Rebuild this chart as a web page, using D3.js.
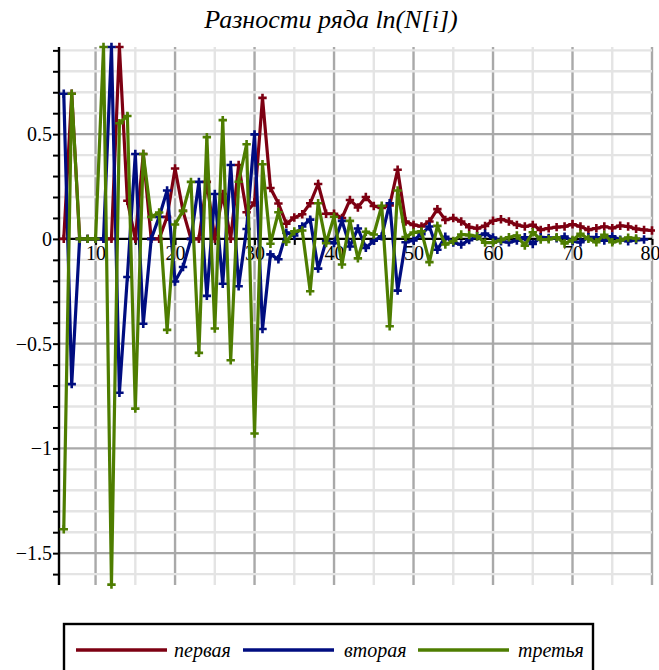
<!DOCTYPE html>
<html>
<head>
<meta charset="utf-8">
<script src="https://cdn.jsdelivr.net/npm/d3@7"></script>
<style>
  html, body { margin: 0; padding: 0; background: #fff; }
  svg { display: block; }
</style>
</head>
<body>
<svg id="chart" width="659" height="670"></svg>
<script>
// Differences of ln(N[i]): first, second and third, indexed from i = 6
const startIndex = 6;

const first = [
  0, 0.693, 0, 0, 0, 0, 0, 0.916, 0.182, 0,
  0.405, 0, 0, 0.105, 0.336, 0.134, 0, 0, 0.272, 0,
  0.214, 0, 0.353, 0.127, 0.174, 0.673, 0.243, 0.169, 0.072, 0.102,
  0.118, 0.17, 0.262, 0.12, 0.12, 0.1, 0.186, 0.15, 0.2, 0.157,
  0.148, 0.16, 0.33, 0.083, 0.067, 0.06, 0.083, 0.142, 0.09, 0.1,
  0.083, 0.056, 0.05, 0.062, 0.087, 0.094, 0.083, 0.067, 0.059, 0.067,
  0.043, 0.051, 0.056, 0.059, 0.07, 0.059, 0.043, 0.051, 0.059, 0.051,
  0.063, 0.059, 0.048, 0.043, 0.04
];

const second = [
  0.693, -0.693, 0, 0, 0, 0, 0.916, -0.734, -0.182, 0.405,
  -0.405, 0, 0.105, 0.231, -0.203, -0.134, 0, 0.272, -0.272, 0.214,
  -0.214, 0.353, -0.226, 0.047, 0.499, -0.43, -0.074, -0.097, 0.03, 0.016,
  0.06, 0.092, -0.142, -0.01, -0.02, 0.086, -0.036, 0.05, -0.043, -0.009,
  0.012, 0.17, -0.247, -0.016, -0.007, 0.023, 0.059, -0.052, 0.01, -0.017,
  -0.027, -0.006, 0.012, 0.025, 0.007, -0.011, -0.016, -0.008, 0.008, -0.024,
  0.008, 0.005, 0.003, 0.011, -0.011, -0.016, 0.008, 0.008, -0.008, 0.012,
  -0.004, -0.011, -0.005, -0.003
];

const third = [
  -1.386, 0.693, 0, 0, 0, 0.916, -1.65, 0.552, 0.587, -0.81,
  0.405, 0.105, 0.126, -0.434, 0.069, 0.134, 0.272, -0.544, 0.486, -0.428,
  0.567, -0.579, 0.273, 0.452, -0.929, 0.356, -0.023, 0.127, -0.014, 0.036,
  0.04, -0.25, 0.17, -0.02, 0.106, -0.122, 0.086, -0.093, 0.034, 0.021,
  0.158, -0.417, 0.231, 0.009, 0.03, 0.036, -0.111, 0.062, -0.027, -0.01,
  0.021, 0.018, 0.013, -0.018, -0.018, -0.005, 0.008, 0.016, -0.032, 0.032,
  -0.003, -0.002, 0.008, -0.022, -0.005, 0.024, 0, -0.016, 0.02, -0.016,
  -0.007, 0.006, 0.002
];

const seriesNames = ["первая", "вторая", "третья"];
const seriesColors = ["#7d0012", "#000d80", "#4e7d00"];
const xTickValues = [10, 20, 30, 40, 50, 60, 70, 80];
const yTickValues = [0.5, 0, -0.5, -1, -1.5];
const yTickLabels = ["0.5", "0", "\u22120.5", "\u22121", "\u22121.5"];
const title = "Разности ряда ln(N[i])";

const svg = d3.select("#chart");
const serif = "'Liberation Serif', 'Times New Roman', serif";

const x = d3.scaleLinear().domain([5.4, 80]).range([59, 652]);
const y = d3.scaleLinear().domain([-1.652, 0.916]).range([585, 47]);

// grid: minor lines every 5 (x) and 0.1 (y), major every 10 and 0.5
const gx = svg.append("g");
d3.range(10, 81, 5).forEach(v => {
  gx.append("line")
    .attr("x1", x(v)).attr("x2", x(v))
    .attr("y1", 47).attr("y2", 585)
    .attr("stroke", v % 10 === 0 ? "#a9a9a9" : "#e4e4e4")
    .attr("stroke-width", 2.4);
});
d3.range(-16, 10).forEach(k => {
  const v = k / 10;
  if (k === 0) return;
  gx.append("line")
    .attr("x1", 59).attr("x2", 652)
    .attr("y1", y(v)).attr("y2", y(v))
    .attr("stroke", k % 5 === 0 ? "#a9a9a9" : "#e4e4e4")
    .attr("stroke-width", 2.4);
});

// axes
const xAxis = d3.axisBottom(x)
  .tickValues(d3.range(10, 81, 5))
  .tickFormat(d => xTickValues.includes(d) ? String(d) : "")
  .tickSize(6).tickSizeOuter(0);
const xg = svg.append("g").attr("transform", `translate(0,${y(0)})`).call(xAxis)
  .attr("font-family", serif).attr("font-size", 20);
xg.select(".domain").attr("stroke", "#000").attr("stroke-width", 2.4)
  .attr("d", `M${x(5.4)},0H${x(80)}`);
xg.selectAll(".tick line").attr("stroke", "#000").attr("stroke-width", 2);
xg.selectAll(".tick text")
  .style("font-family", serif).style("font-size", "20px").attr("fill", "#000").attr("dy", "0.6em")
  .attr("dx", d => d === 80 ? -2 : 0);

const yAxis = d3.axisLeft(y)
  .tickValues(d3.range(-16, 10).map(k => k / 10))
  .tickFormat(d => {
    const i = yTickValues.findIndex(t => Math.abs(t - d) < 1e-9);
    return i >= 0 ? yTickLabels[i] : "";
  })
  .tickSize(6).tickSizeOuter(0);
const yg = svg.append("g").attr("transform", `translate(${x(5.4)},0)`).call(yAxis)
  .attr("font-family", serif).attr("font-size", 20);
yg.select(".domain").attr("stroke", "#000").attr("stroke-width", 2.4)
  .attr("d", `M0,47V585`);
yg.selectAll(".tick line").attr("stroke", "#000").attr("stroke-width", 2);
yg.selectAll(".tick text")
  .style("font-family", serif).style("font-size", "20px").attr("fill", "#000").attr("x", -7);

// series
svg.append("clipPath").attr("id", "plotclip")
  .append("rect").attr("x", 55).attr("y", 40).attr("width", 600).attr("height", 550);

const line = d3.line().x(d => x(d.i)).y(d => y(d.v));
const plot = svg.append("g").attr("clip-path", "url(#plotclip)");
[first, second, third].forEach((arr, s) => {
  const pts = arr.map((v, k) => ({ i: startIndex + k, v }));
  plot.append("path").datum(pts)
    .attr("d", line)
    .attr("fill", "none")
    .attr("stroke", seriesColors[s])
    .attr("stroke-width", 3.2)
    .attr("stroke-linejoin", "miter");
  const m = 4.2;
  plot.append("g").selectAll("path").data(pts).join("path")
    .attr("d", d => `M${x(d.i) - m},${y(d.v)}H${x(d.i) + m}M${x(d.i)},${y(d.v) - m}V${y(d.v) + m}`)
    .attr("stroke", seriesColors[s])
    .attr("stroke-width", 2.6)
    .attr("fill", "none");
});

// title
svg.append("text")
  .attr("x", 331).attr("y", 28)
  .attr("text-anchor", "middle")
  .style("font-family", serif).style("font-style", "italic").style("font-size", "26px")
  .text(title);

// legend
const legend = svg.append("g");
legend.append("rect")
  .attr("x", 64).attr("y", 624).attr("width", 529).attr("height", 60)
  .attr("fill", "#fff").attr("stroke", "#000").attr("stroke-width", 2.4);
const legendLineX = [76, 243, 418];
const legendTextX = [174, 344, 518];
seriesNames.forEach((name, s) => {
  legend.append("line")
    .attr("x1", legendLineX[s]).attr("x2", legendLineX[s] + 91)
    .attr("y1", 650).attr("y2", 650)
    .attr("stroke", seriesColors[s]).attr("stroke-width", 3.5);
  legend.append("text")
    .attr("x", legendTextX[s]).attr("y", 657)
    .style("font-family", serif).style("font-style", "italic").style("font-size", "20px")
    .text(name);
});
</script>
</body>
</html>
